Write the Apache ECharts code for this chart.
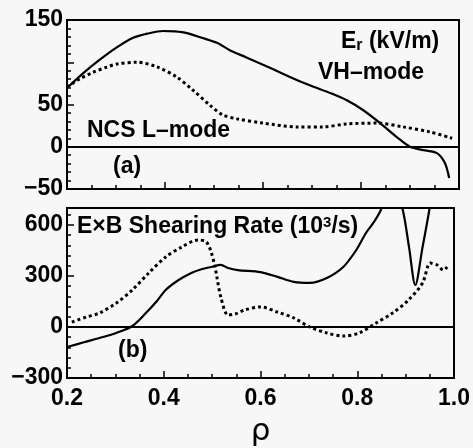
<!DOCTYPE html>
<html>
<head>
<meta charset="utf-8">
<script src="https://cdn.jsdelivr.net/npm/echarts@6/dist/echarts.min.js"></script>
<style>
  html, body { margin: 0; padding: 0; background: #f7f7f7; }
  #chart { width: 473px; height: 448px; }
</style>
</head>
<body>
<div id="chart"></div>
<script>
// (a) Er profiles
var erVhRho = [0.2, 0.235, 0.267, 0.3, 0.335, 0.365, 0.396, 0.42, 0.445, 0.475, 0.506, 0.533, 0.565, 0.6, 0.635, 0.669, 0.703, 0.737, 0.771, 0.804, 0.839, 0.873, 0.9, 0.927, 0.955, 0.971, 0.98];
var erVh = [69.5, 88, 103, 117, 129, 134, 137, 136.5, 134.5, 129, 123, 114, 106, 97, 88, 79, 71, 63.6, 55, 43.5, 28, 11.5, 0, -4, -7.5, -19, -37];
var erLRho = [0.2, 0.225, 0.253, 0.28, 0.302, 0.343, 0.384, 0.424, 0.457, 0.492, 0.518, 0.547, 0.6, 0.669, 0.722, 0.771, 0.833, 0.886, 0.941, 0.986];
var erL = [70.7, 80, 88, 94, 98, 100, 94.5, 82.5, 67, 49, 37.6, 33, 28, 23.5, 23.5, 27, 28, 23.5, 17.5, 10];

// (b) ExB shearing rate
var shVhRho = [0.2, 0.235, 0.267, 0.302, 0.335, 0.363, 0.385, 0.404, 0.43, 0.457, 0.478, 0.498, 0.518, 0.533, 0.553, 0.6, 0.635, 0.669, 0.702, 0.737, 0.771, 0.798, 0.818, 0.835, 0.849, 0.87, 0.894, 0.907, 0.92, 0.935, 0.949, 0.96];
var shVh = [-118, -90, -65, -35, 6, 82, 150, 218, 275, 318, 340, 353, 365, 347, 335, 323, 295, 265, 259, 288, 353, 453, 553, 620, 690, 900, 690, 470, 247, 470, 690, 900];
var shLRho = [0.21, 0.24, 0.267, 0.302, 0.335, 0.369, 0.404, 0.437, 0.471, 0.488, 0.498, 0.506, 0.518, 0.533, 0.549, 0.567, 0.6, 0.635, 0.669, 0.702, 0.737, 0.771, 0.804, 0.839, 0.873, 0.906, 0.935, 0.951, 0.965, 0.978, 0.986];
var shL = [29, 59, 82, 141, 218, 318, 412, 470, 512, 500, 440, 353, 176, 70, 78, 100, 118, 88, 53, 0, -35, -53, -35, 24, 82, 159, 259, 376, 365, 335, 353];

var xTicks = [0.2, 0.4, 0.6, 0.8, 1.0];
var yTicksA = [-50, 0, 50, 150];
var yTicksB = [-300, 0, 300, 600];

var FONT = "'Liberation Sans', Arial, sans-serif";

function pairs(xs, ys) {
	return xs.map(function(x, i) { return [x, ys[i]]; });
}

function minus(v) {
	return String(v).replace('-', '\u2212');
}

function xAxisCfg(idx, showLabels) {
	return {
		type: 'value', gridIndex: idx, min: 0.2, max: 1.0, interval: 0.2,
		axisLine: { show: true, onZero: false, lineStyle: { color: '#000', width: 2 } },
		axisTick: { show: true, inside: true, length: 7, lineStyle: { color: '#000', width: 1.5 } },
		minorTick: { show: true, splitNumber: 4, length: 4, lineStyle: { color: '#000', width: 1.5 } },
		splitLine: { show: false },
		axisLabel: {
			show: showLabels, color: '#000', fontFamily: FONT, fontWeight: 'bold', fontSize: 23, margin: 9,
			formatter: function(v) { return xTicks.indexOf(+v.toFixed(2)) >= 0 ? v.toFixed(1) : ''; }
		},
		name: showLabels ? 'ρ' : '', nameLocation: 'middle', nameGap: 38,
		nameTextStyle: { color: '#000', fontFamily: 'DejaVu Sans', fontSize: 31 }
	};
}

function yAxisCfg(idx, min, max, step, ticks) {
	return {
		type: 'value', gridIndex: idx, min: min, max: max, interval: step,
		axisLine: { show: true, onZero: false, lineStyle: { color: '#000', width: 2 } },
		axisTick: { show: true, inside: true, length: 7, lineStyle: { color: '#000', width: 1.5 } },
		minorTick: { show: true, splitNumber: 5, length: 4, lineStyle: { color: '#000', width: 1.5 } },
		splitLine: { show: false },
		axisLabel: {
			color: '#000', fontFamily: FONT, fontWeight: 'bold', fontSize: 23, margin: 4,
			showMaxLabel: ticks.indexOf(max) >= 0,
			formatter: function(v) { return ticks.indexOf(v) >= 0 ? minus(v) : ''; }
		}
	};
}

function zeroLine() {
	return {
		silent: true, symbol: 'none', label: { show: false },
		lineStyle: { color: '#000', type: 'solid', width: 2 },
		data: [{ yAxis: 0 }]
	};
}

function solid(idx, data, withZero) {
	var s = {
		type: 'line', xAxisIndex: idx, yAxisIndex: idx, data: data,
		showSymbol: false, smooth: 0.3, clip: true,
		lineStyle: { color: '#000', width: 2.2 }
	};
	if (withZero) s.markLine = zeroLine();
	return s;
}

function dotted(idx, data) {
	return {
		type: 'line', xAxisIndex: idx, yAxisIndex: idx, data: data,
		showSymbol: false, smooth: 0.3, clip: true,
		lineStyle: { color: '#000', width: 3, type: [3, 3] }
	};
}

var txt = { fontFamily: FONT, fontWeight: 'bold', fontSize: 23, fill: '#000' };

function textAt(x, y, text) {
	var st = Object.assign({}, txt, { text: text });
	return { type: 'text', left: x, top: y, style: st, z: 100 };
}

var myChart = echarts.init(document.getElementById('chart'));

var option = {
	backgroundColor: '#f7f7f7',
	animation: false,
	grid: [
		{ left: 67, top: 20, width: 392, height: 169, show: true, borderColor: '#000', borderWidth: 2 },
		{ left: 67, top: 208, width: 392, height: 170, show: true, borderColor: '#000', borderWidth: 2 }
	],
	xAxis: [xAxisCfg(0, false), xAxisCfg(1, true)],
	yAxis: [yAxisCfg(0, -50, 150, 50, yTicksA), yAxisCfg(1, -300, 700, 300, yTicksB)],
	series: [
		solid(0, pairs(erVhRho, erVh), true),
		dotted(0, pairs(erLRho, erL)),
		solid(1, pairs(shVhRho, shVh), true),
		dotted(1, pairs(shLRho, shL))
	],
	graphic: [
		{
			type: 'text', left: 341, top: 30, z: 100,
			style: {
				text: '{a|E}{s|r}{a| (kV/m)}',
				rich: {
					a: Object.assign({}, txt, { lineHeight: 26 }),
					s: Object.assign({}, txt, { fontSize: 16, padding: [9, 0, 0, 0] })
				}
			}
		},
		textAt(318, 61, 'VH\u2013mode'),
		textAt(87, 119, 'NCS L\u2013mode'),
		textAt(113, 155, '(a)'),
		{
			type: 'text', left: 77, top: 215, z: 100,
			style: {
				text: '{a|E\u00d7B Shearing Rate (10}{p|3}{a|/s)}',
				rich: {
					a: Object.assign({}, txt, { lineHeight: 26 }),
					p: Object.assign({}, txt, { fontSize: 15, padding: [0, 0, 9, 0] })
				}
			}
		},
		textAt(118, 339, '(b)')
	]
};

myChart.setOption(option);
</script>
</body>
</html>
